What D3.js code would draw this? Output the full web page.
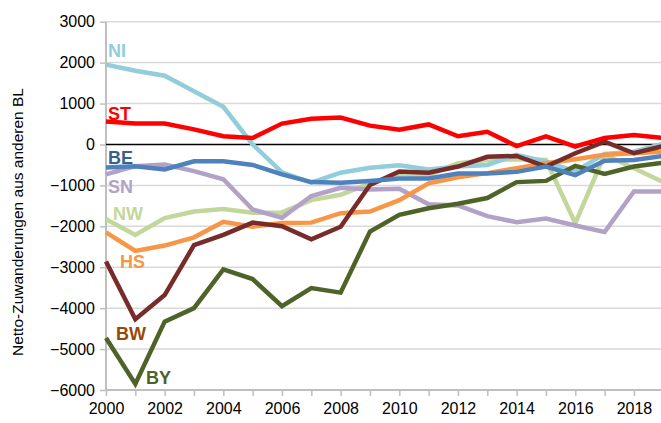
<!DOCTYPE html>
<html><head><meta charset="utf-8">
<script src="https://cdn.jsdelivr.net/npm/d3@7"></script>
<style>
html,body{margin:0;padding:0;background:#fff;overflow:hidden}
svg{display:block}
text{font-family:"Liberation Sans",Arial,sans-serif}
</style></head>
<body>
<svg id="c" width="661" height="423"></svg>
<script>
const years = d3.range(2000, 2020);
const yTicks = [3000, 2000, 1000, 0, -1000, -2000, -3000, -4000, -5000, -6000];
const xTickLabels = [2000, 2002, 2004, 2006, 2008, 2010, 2012, 2014, 2016, 2018];
const seriesNames = ["NW", "SN", "NI", "HS", "BW", "BY", "BE", "ST"];
const NI = [1950, 1800, 1680, 1300, 920, 0, -680, -930, -690, -570, -510, -610, -540, -500, -255, -420, -660, -230, -175, 20];
const ST = [560, 510, 510, 370, 200, 160, 510, 630, 660, 460, 360, 490, 200, 310, -40, 200, -50, 160, 230, 160];
const BE = [-560, -530, -610, -410, -410, -500, -730, -920, -935, -890, -830, -830, -710, -710, -670, -540, -750, -400, -380, -280];
const SN = [-730, -530, -490, -650, -850, -1590, -1790, -1260, -1060, -1100, -1080, -1460, -1490, -1750, -1900, -1810, -1980, -2140, -1150, -1150];
const NW = [-1830, -2210, -1800, -1640, -1580, -1670, -1660, -1360, -1230, -950, -720, -745, -460, -380, -360, -380, -1925, -250, -580, -920];
const HS = [-2150, -2600, -2470, -2270, -1890, -2010, -1920, -1910, -1680, -1640, -1360, -950, -800, -700, -580, -460, -360, -250, -215, -175];
const BW = [-2860, -4270, -3680, -2460, -2210, -1910, -2000, -2320, -2010, -990, -660, -690, -540, -300, -280, -540, -215, 70, -215, -40];
const BY = [-4730, -5850, -4330, -4000, -3050, -3290, -3950, -3510, -3620, -2130, -1720, -1560, -1450, -1310, -920, -890, -525, -720, -540, -445];
const values = {NI, ST, BE, SN, NW, HS, BW, BY};

const lineColors = {NI:"#92CDDC", ST:"#FF0000", BE:"#4F81BD", SN:"#B3A2C7", NW:"#C3D69B", HS:"#F79646", BW:"#772C2A", BY:"#4F6228"};
const labelColors = {NI:"#93CDDD", ST:"#FF0000", BE:"#376092", SN:"#B3A2C7", NW:"#C3D69B", HS:"#F79646", BW:"#984807", BY:"#4F6228"};
// label placement (pixels, layout only)
const labelPos = {NI:[108,57], ST:[108,120], BE:[108,164], SN:[108,193], NW:[113,220], HS:[120,268], BW:[116,340], BY:[146,384]};

const svg = d3.select("#c");
const x = d3.scaleLinear().domain([2000, 2019]).range([106, 106 + 19 * 29.33]);
const y = d3.scaleLinear().domain([-6000, 3000]).range([390, 21.7]);

// gridlines
svg.append("g").selectAll("line").data(yTicks.filter(v => v !== 0 && v !== -6000)).join("line")
  .attr("x1", x(2000)).attr("x2", 661)
  .attr("y1", d => y(d)).attr("y2", d => y(d))
  .attr("stroke", "#D9D9D9").attr("stroke-width", 1.5);

// y axis
const yAxis = svg.append("g").attr("transform", `translate(${x(2000)},0)`)
  .call(d3.axisLeft(y).tickValues(yTicks).tickSize(6).tickPadding(5).tickFormat(d3.format("d")));
yAxis.select(".domain").attr("stroke", "#BFBFBF").attr("stroke-width", 2).attr("d", `M0,${y(3000)}V${y(-6000)}`);
yAxis.selectAll(".tick line").attr("stroke", "#BFBFBF").attr("stroke-width", 1.5);
yAxis.selectAll(".tick text").attr("font-size", 16).attr("fill", "#000").attr("font-family", "Liberation Sans, Arial, sans-serif");

// x axis
const xAxis = svg.append("g").attr("transform", `translate(0,${y(-6000)})`)
  .call(d3.axisBottom(x).tickValues(years).tickSize(6).tickPadding(7)
    .tickFormat(d => xTickLabels.includes(d) ? String(d) : ""));
xAxis.select(".domain").attr("stroke", "#BFBFBF").attr("stroke-width", 2).attr("d", `M${x(2000)},0H661`);
xAxis.selectAll(".tick line").attr("stroke", "#BFBFBF").attr("stroke-width", 1.5);
xAxis.selectAll(".tick text").attr("font-size", 16).attr("fill", "#000").attr("font-family", "Liberation Sans, Arial, sans-serif");

// zero line
svg.append("line").attr("x1", x(2000)).attr("x2", 661).attr("y1", y(0)).attr("y2", y(0))
  .attr("stroke", "#000").attr("stroke-width", 1.5);

// lines
const line = d3.line().x((d, i) => x(years[i])).y(d => y(d));
svg.append("g").selectAll("path").data(seriesNames).join("path")
  .attr("d", n => line(values[n]))
  .attr("fill", "none").attr("stroke", n => lineColors[n])
  .attr("stroke-width", 4.5).attr("stroke-linejoin", "miter").attr("stroke-linecap", "butt");

// labels
svg.append("g").selectAll("text").data(seriesNames).join("text")
  .attr("x", n => labelPos[n][0]).attr("y", n => labelPos[n][1])
  .attr("font-size", 18).attr("font-weight", "bold")
  .attr("fill", n => labelColors[n]).text(n => n);

// y axis title
svg.append("text").attr("transform", "translate(23,222) rotate(-90)")
  .attr("text-anchor", "middle").attr("font-size", 15.5).attr("fill", "#000")
  .text("Netto-Zuwanderungen aus anderen BL");
</script>
</body></html>
